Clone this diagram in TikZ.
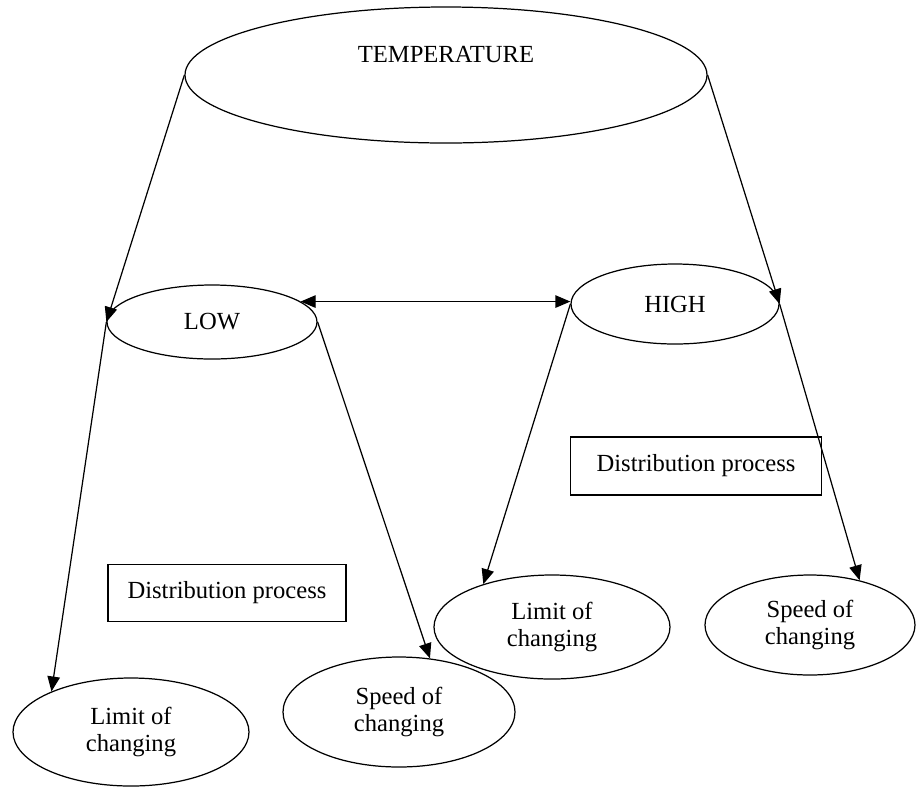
\documentclass[tikz,border=0pt]{standalone}
\usepackage{fontspec}
\setmainfont{Liberation Serif}
\usetikzlibrary{shapes.geometric,arrows.meta}

\begin{document}
\begin{tikzpicture}[x=0.2mm,y=-0.2mm,>={Triangle[length=3mm,width=2.5mm]},line width=0.7pt,font=\fontsize{14}{15.5}\selectfont]
\useasboundingbox (0,0) rectangle (916,787);
\begin{scope}[every node/.style={ellipse,draw,inner sep=0pt,align=center}]
	\node[minimum width=10.44cm,minimum height=2.72cm,text height=0.3cm,text depth=0.8cm] (temp) at (446,75) {TEMPERATURE};
	\node[minimum width=4.2cm,minimum height=1.48cm] (low) at (212,322) {LOW};
	\node[minimum width=4.16cm,minimum height=1.6cm] (high) at (675,304) {HIGH};
	\node[minimum width=4.72cm,minimum height=2.16cm] (limitL) at (131,732) {Limit of\\changing};
	\node[minimum width=4.64cm,minimum height=2.2cm] (speedL) at (399,712) {Speed of\\changing};
	\node[minimum width=4.72cm,minimum height=2.08cm] (limitR) at (552,627) {Limit of\\changing};
	\node[minimum width=4.2cm,minimum height=2cm] (speedR) at (810,625) {Speed of\\changing};
\end{scope}

\begin{scope}[every node/.style={rectangle,draw,inner sep=0pt}]
	\node[minimum width=4.76cm,minimum height=1.14cm] (distL) at (227,593) {Distribution process};
	\node[minimum width=5.02cm,minimum height=1.16cm] (distR) at (696,466) {Distribution process};
\end{scope}

\begin{scope}[every edge/.style={draw=black,line width=0.7pt}]
	\path [->] (temp.west) edge (low.west);
	\path [->] (temp.east) edge (high.east);
	\path [<->] (low.13) edge (low.13 -| high.west);
	\path [->] (low.west) edge (limitL.153);
	\path [->] (low.east) edge (speedL.60);
	\path [->] (high.west) edge (limitR.148);
	\path [->] (high.east) edge (speedR.42);
\end{scope}
\end{tikzpicture}
\end{document}
